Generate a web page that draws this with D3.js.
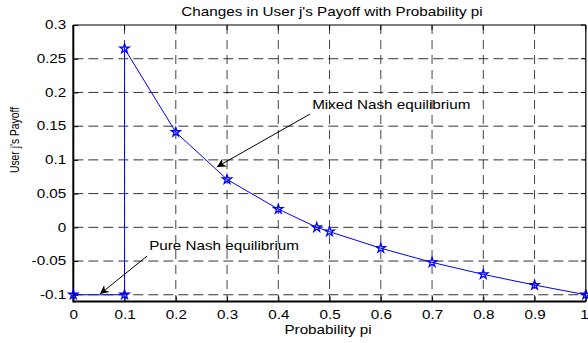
<!DOCTYPE html>
<html><head><meta charset="utf-8">
<script src="https://cdn.jsdelivr.net/npm/d3@7"></script>
<style>html,body{margin:0;padding:0;background:#fff;}text{font-family:"Liberation Sans",Arial,Helvetica,sans-serif;fill:#000;}</style>
</head><body>
<svg id="chart" width="588" height="343"></svg>
<script>
// Data
const probability = [0, 0.1, 0.1, 0.2, 0.3, 0.4, 0.475, 0.5, 0.6, 0.7, 0.8, 0.9, 1.0];
const payoff      = [-0.1, -0.1, 0.265, 0.141, 0.071, 0.027, 0.0, -0.0065, -0.031, -0.052, -0.0698, -0.0856, -0.1];
const xTicks = [0, 0.1, 0.2, 0.3, 0.4, 0.5, 0.6, 0.7, 0.8, 0.9, 1];
const xTickLabels = ["0", "0.1", "0.2", "0.3", "0.4", "0.5", "0.6", "0.7", "0.8", "0.9", "1"];
const yTicks = [-0.1, -0.05, 0, 0.05, 0.1, 0.15, 0.2, 0.25, 0.3];
const yTickLabels = ["-0.1", "-0.05", "0", "0.05", "0.1", "0.15", "0.2", "0.25", "0.3"];
const titleText = "Changes in User j's Payoff with Probability pi";
const xLabelText = "Probability pi";
const yLabelText = "User j's Payoff";
const annotations = [
  {label: "Mixed Nash equilibrium", tx: 0.466, ty: 0.175, x1: 0.462, y1: 0.168, x2: 0.280, y2: 0.0895},
  {label: "Pure Nash equilibrium",  tx: 0.148, ty: -0.0337, x1: 0.144, y1: -0.0426, x2: 0.052, y2: -0.099}
];

const svg = d3.select("#chart");
const L = 73.3, R = 585.8, T = 25, B = 301.5;
const x = d3.scaleLinear().domain([0, 1]).range([L, R]);
const y = d3.scaleLinear().domain([-0.11, 0.3]).range([B, T]);
const SX = 1.27; // horizontal stretch of text

function hText(g, str, px, py, anchor, size) {
  return g.append("text")
    .attr("transform", `translate(${px},${py}) scale(${SX},1)`)
    .attr("text-anchor", anchor)
    .attr("font-size", size)
    .text(str);
}

// Grid
const grid = svg.append("g");
grid.selectAll("line.v").data(xTicks.filter(d => d > 0 && d < 1)).join("line")
  .attr("x1", d => x(d)).attr("x2", d => x(d)).attr("y1", T).attr("y2", B)
  .attr("stroke", "#444").attr("stroke-width", 1).attr("stroke-dasharray", "9,6");
grid.selectAll("line.h").data(yTicks.filter(d => d < 0.3)).join("line")
  .attr("x1", L).attr("x2", R).attr("y1", d => y(d)).attr("y2", d => y(d))
  .attr("stroke", "#333").attr("stroke-width", 1).attr("stroke-dasharray", "10,5");

// Axes via d3
const xAxis = d3.axisBottom(x).tickValues(xTicks).tickFormat((d, i) => xTickLabels[i]).tickSizeInner(-5).tickSizeOuter(0).tickPadding(9);
const yAxis = d3.axisLeft(y).tickValues(yTicks).tickFormat((d, i) => yTickLabels[i]).tickSizeInner(-5).tickSizeOuter(0).tickPadding(7);
const gx = svg.append("g").attr("transform", `translate(0,${B})`).call(xAxis);
const gy = svg.append("g").attr("transform", `translate(${L},0)`).call(yAxis);
[gx, gy].forEach(g => {
  g.select(".domain").remove();
  g.selectAll(".tick line").attr("stroke", "#000");
  g.selectAll(".tick text").attr("font-size", 12).attr("fill", "#000")
    .attr("font-family", '"Liberation Sans",Arial,sans-serif');
});
gx.selectAll(".tick text").attr("transform", `scale(${SX},1)`).attr("dy", "0.71em");
gx.selectAll(".tick").filter(d => d === 1).select("text").attr("x", -1.5);
gy.selectAll(".tick text").each(function() {
  const t = d3.select(this);
  const xx = +t.attr("x");
  t.attr("x", xx / SX).attr("transform", `scale(${SX},1)`);
});
// mirrored ticks on top/right
svg.append("g").selectAll("line").data(xTicks).join("line")
  .attr("x1", d => x(d)).attr("x2", d => x(d)).attr("y1", T).attr("y2", T + 5).attr("stroke", "#000");
svg.append("g").selectAll("line").data(yTicks).join("line")
  .attr("x1", R).attr("x2", R - 5).attr("y1", d => y(d)).attr("y2", d => y(d)).attr("stroke", "#000");

// Frame
svg.append("line").attr("x1", L).attr("x2", R).attr("y1", T).attr("y2", T).attr("stroke", "#000").attr("stroke-width", 1.2);
svg.append("line").attr("x1", R).attr("x2", R).attr("y1", T).attr("y2", B).attr("stroke", "#000").attr("stroke-width", 1.2);
svg.append("line").attr("x1", L).attr("x2", R).attr("y1", B).attr("y2", B).attr("stroke", "#000").attr("stroke-width", 2);
svg.append("line").attr("x1", L).attr("x2", L).attr("y1", T).attr("y2", B + 1).attr("stroke", "#000").attr("stroke-width", 2);

// Series
const pts = probability.map((p, i) => [p, payoff[i]]);
svg.append("path").datum(pts)
  .attr("d", d3.line().x(d => x(d[0])).y(d => y(d[1])))
  .attr("fill", "none").attr("stroke", "#0000ff").attr("stroke-width", 1);
svg.append("g").selectAll("path").data(pts).join("path")
  .attr("transform", d => `translate(${x(d[0])},${y(d[1])})`)
  .attr("d", d3.symbol(d3.symbolStar, 26)())
  .attr("fill", "none").attr("stroke", "#0000ff").attr("stroke-width", 1.3);

// Annotations
svg.append("defs").append("marker").attr("id", "ah")
  .attr("viewBox", "0 0 10 10").attr("refX", 10).attr("refY", 5)
  .attr("markerWidth", 13).attr("markerHeight", 9).attr("markerUnits", "userSpaceOnUse")
  .attr("orient", "auto")
  .append("path").attr("d", "M0,0 L10,5 L0,10 L3,5 Z").attr("fill", "#000");
annotations.forEach(a => {
  svg.append("line").attr("x1", x(a.x1)).attr("y1", y(a.y1)).attr("x2", x(a.x2)).attr("y2", y(a.y2))
    .attr("stroke", "#000").attr("stroke-width", 1).attr("marker-end", "url(#ah)");
  hText(svg, a.label, x(a.tx), y(a.ty), "start", 12);
});

// Titles
hText(svg, titleText, 332, 16, "middle", 12);
hText(svg, xLabelText, 328, 333.5, "middle", 12);
svg.append("text").attr("transform", "translate(19,140) rotate(-90)")
  .attr("text-anchor", "middle").attr("font-size", 12).attr("textLength", 66).attr("lengthAdjust", "spacingAndGlyphs")
  .text(yLabelText);
</script>
</body></html>
